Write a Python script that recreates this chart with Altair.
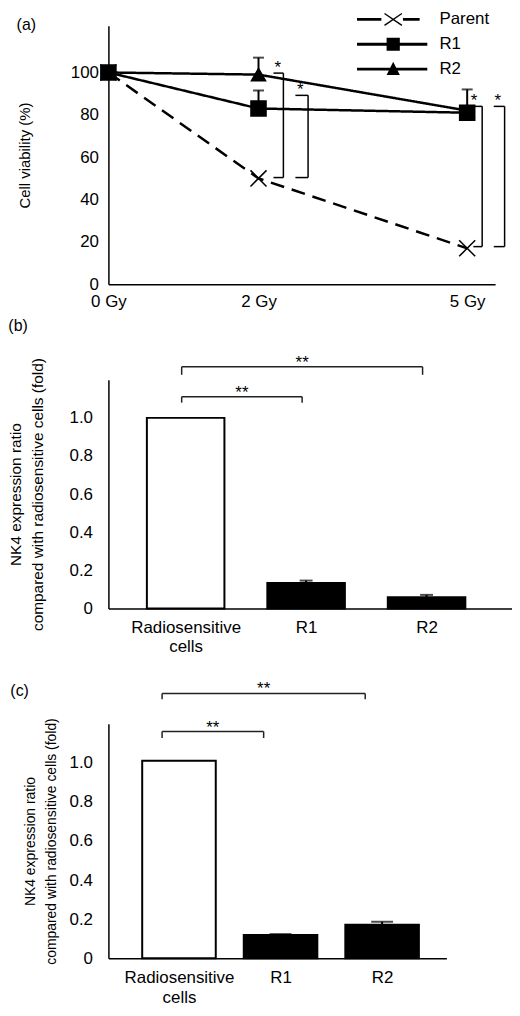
import altair as alt
import pandas as pd

FONT = "Liberation Sans"

# ---------------- Panel (a): cell viability after irradiation ----------------
doses = [0, 2, 5]
series_names = ["Parent", "R1", "R2"]
parent_viability = [100, 50, 17]
r1_viability = [100, 83, 81]
r2_viability = [100, 99, 82]
parent_err = [0, 0, 0]
r1_err = [0, 8.5, 0]
r2_err = [0, 8, 10]

# significance brackets in panel (a) (dose units / viability units)
sig_arm = [2.21, 2.52, 5.09, 5.39]
sig_bar = [2.35, 2.70, 5.22, 5.55]
sig_top = [99.7, 89.2, 84, 84]
sig_bottom = [50.4, 50.4, 17.8, 17.8]
sig_star = [2.27, 2.59, 5.10, 5.45]
sig_label = ["*", "*", "*", "*"]

# ---------------- Panels (b) and (c): NK4 expression ----------------
groups = ["Radiosensitive cells", "R1", "R2"]
b_values = [1.0, 0.134, 0.059]
b_err = [0, 0.012, 0.012]
c_values = [1.01, 0.119, 0.172]
c_err = [0, 0.005, 0.015]

b_br_start = [0, 0]
b_br_end = [1, 2]
b_br_y = [1.111, 1.268]
b_br_leg = [1.08, 1.226]
c_br_start = [0, 0]
c_br_end = [1, 2]
c_br_y = [1.16, 1.355]
c_br_leg = [1.127, 1.325]
br_label = ["**", "**"]

# ---------------- helpers ----------------
X_PATH = "M-1,-1L1,1M-1,1L1,-1"
X_FILLED = ("M-1.306,-0.767L1.194,0.933L1.306,0.767L-1.194,-0.933Z "
            "M-1.194,0.933L1.306,-0.767L1.194,-0.933L-1.306,0.767Z")
LEGEND_PATHS = [
    # dashed line + cross
    "M-5.2,-0.21H-1.7V0.21H-5.2Z M1.4,-0.21H3.8V0.21H1.4Z " + X_FILLED,
    # solid line + square
    "M-5.2,-0.21H4.9V0.21H-5.2Z M-0.95,-0.95H0.95V0.95H-0.95Z",
    # solid line + triangle
    "M-5.2,-0.21H4.9V0.21H-5.2Z M0,-1.05L0.95,0.85H-0.95Z",
]

rows = []
for name, vals, errs in [("Parent", parent_viability, parent_err),
                         ("R2", r2_viability, r2_err),
                         ("R1", r1_viability, r1_err)]:
    for d, v, e in zip(doses, vals, errs):
        rows.append({"dose": d, "value": v, "err": e, "upper": v + e, "series": name})
df_a = pd.DataFrame(rows)
df_sig = pd.DataFrame({"arm": sig_arm, "bar": sig_bar, "top": sig_top,
                       "bottom": sig_bottom, "star": sig_star, "label": sig_label})

xs_a = alt.Scale(type="pow", exponent=0.951, domain=[0, 5.41], nice=False, zero=True)
ys_a = alt.Scale(domain=[0, 122], nice=False)
ax_xa = alt.Axis(values=doses, labelExpr="datum.value + ' Gy'", title=None, grid=False,
                 ticks=False, labelFontSize=17, labelPadding=9, labelFlush=False,
                 labelOverlap=False, domainWidth=1.5)
ax_ya = alt.Axis(values=[0, 20, 40, 60, 80, 100], title="Cell viability (%)", grid=False,
                 ticks=False, labelFontSize=17, labelPadding=10, labelFlush=False,
                 labelOverlap=False, titleFontSize=15, titlePadding=38, domainWidth=1.5)


def xa(field):
    return alt.X(f"{field}:Q", scale=xs_a, axis=ax_xa)


def ya(field):
    return alt.Y(f"{field}:Q", scale=ys_a, axis=ax_ya)


base_a = alt.Chart(df_a)
lines_a = base_a.mark_line(color="black", strokeWidth=2.5).encode(
    x=xa("dose"), y=ya("value"),
    strokeDash=alt.StrokeDash("series:N", scale=alt.Scale(domain=series_names,
                              range=[[14, 8], [1, 0], [1, 0]]), legend=None),
    detail="series:N",
)
points_a = base_a.mark_point(filled=True, fill="black", stroke="black", strokeWidth=1.5,
                             opacity=1).encode(
    x=xa("dose"), y=ya("value"),
    shape=alt.Shape("series:N", scale=alt.Scale(domain=series_names,
                    range=[X_PATH, "square", "triangle-up"]), legend=None),
    size=alt.Size("series:N", scale=alt.Scale(domain=series_names, range=[260, 200, 190]),
                  legend=None),
)
err_a = base_a.transform_filter("datum.err > 0")
err_rule_a = err_a.mark_rule(color="black", strokeWidth=2).encode(
    x=xa("dose"), y=ya("value"), y2="upper:Q")
err_cap_a = err_a.mark_tick(color="black", orient="horizontal", size=11, thickness=2).encode(
    x=xa("dose"), y=ya("upper"))

base_sig = alt.Chart(df_sig)
sig_v = base_sig.mark_rule(color="black", strokeWidth=1.5).encode(
    x=xa("bar"), y=ya("top"), y2="bottom:Q")
sig_t = base_sig.mark_rule(color="black", strokeWidth=1.5).encode(
    x=xa("arm"), x2="bar:Q", y=ya("top"))
sig_b = base_sig.mark_rule(color="black", strokeWidth=1.5).encode(
    x=xa("arm"), x2="bar:Q", y=ya("bottom"))
sig_s = base_sig.mark_text(font=FONT, fontSize=17, baseline="alphabetic", align="center",
                           color="black").encode(x=xa("star"), y=ya("top"), text="label:N")

legend_a = base_a.transform_filter("false").mark_point(
    filled=True, fill="black", stroke="black", strokeWidth=1.5, opacity=1).encode(
    x=xa("dose"), y=ya("value"),
    shape=alt.Shape("series:N", scale=alt.Scale(domain=series_names, range=LEGEND_PATHS),
                    legend=alt.Legend(title=None, orient="none", legendX=278, legendY=-15,
                                      padding=0, symbolSize=196, symbolFillColor="black",
                                      symbolStrokeColor="black", symbolStrokeWidth=1.5,
                                      symbolOpacity=1, labelFont=FONT, labelFontSize=17,
                                      labelColor="black", labelOffset=38, rowPadding=4)),
)

chart_a = alt.layer(lines_a, points_a, err_rule_a, err_cap_a, sig_v, sig_t, sig_b, sig_s,
                    legend_a).resolve_scale(shape="independent", size="independent").properties(
    width=389, height=260,
    title=alt.TitleParams("(a)", anchor="start", frame="bounds", fontSize=16,
                          fontWeight="normal", font=FONT, offset=0, dy=22, dx=-1),
)


# ---------------- bar panels ----------------
def label_expr(names):
    parts = []
    for i, n in enumerate(names):
        words = n.split(" ")
        if len(words) > 1:
            parts.append("[" + ", ".join(f"'{w}'" for w in words) + "]")
        else:
            parts.append(f"'{n}'")
    expr = ""
    for i, lab in enumerate(parts[:-1]):
        expr += f"datum.value == {i} ? {lab} : "
    return expr + parts[-1]


def bar_panel(values, errs, br_start, br_end, br_y, br_leg, letter, x_domain, width, height,
              bar_size, cap_size, title_pad, title_size, title_lh, br_shift, letter_offset,
              letter_dy, letter_dx, lab_lh):
    df = pd.DataFrame({"idx": list(range(len(groups))), "group": groups,
                       "value": values, "err": errs})
    df["upper"] = df["value"] + df["err"]
    dfb = pd.DataFrame({"start": br_start, "end": br_end, "y": br_y, "leg": br_leg,
                        "label": br_label})
    xs = alt.Scale(domain=x_domain, nice=False, zero=False)
    ys = alt.Scale(domain=[0, 1.2], nice=False)
    ax_x = alt.Axis(values=list(range(len(groups))), labelExpr=label_expr(groups), title=None,
                    grid=False, ticks=False, labelFontSize=17, labelPadding=11,
                    labelLineHeight=lab_lh, labelFlush=False, labelOverlap=False,
                    labelBaseline="top", domainWidth=1.5)
    ax_y = alt.Axis(values=[0, 0.2, 0.4, 0.6, 0.8, 1.0],
                    labelExpr="datum.value == 0 ? '0' : format(datum.value, '.1f')",
                    title=["NK4 expression ratio", "compared with radiosensitive cells (fold)"],
                    grid=False, ticks=False, labelFontSize=17, labelPadding=16,
                    labelFlush=False, labelOverlap=False, titleFontSize=title_size,
                    titleLineHeight=title_lh, titlePadding=title_pad, domainWidth=1.5)

    def X(f):
        return alt.X(f"{f}:Q", scale=xs, axis=ax_x)

    def Y(f):
        return alt.Y(f"{f}:Q", scale=ys, axis=ax_y)

    base = alt.Chart(df)
    bars = base.mark_bar(size=bar_size, stroke="black", strokeWidth=2).encode(
        x=X("idx"), y=Y("value"), y2=alt.datum(0),
        fill=alt.Fill("group:N", scale=alt.Scale(domain=groups,
                      range=["white", "black", "black"]), legend=None),
    )
    eb = base.transform_filter("datum.err > 0")
    e_rule = eb.mark_rule(color="black", strokeWidth=2).encode(
        x=X("idx"), y=Y("value"), y2="upper:Q")
    e_cap = eb.mark_tick(color="black", orient="horizontal", size=cap_size, thickness=2).encode(
        x=X("idx"), y=Y("upper"))
    bb = alt.Chart(dfb)
    h = bb.mark_rule(color="#222", strokeWidth=1.5, xOffset=br_shift, x2Offset=br_shift).encode(
        x=X("start"), x2="end:Q", y=Y("y"))
    l1 = bb.mark_rule(color="#222", strokeWidth=1.5, xOffset=br_shift).encode(
        x=X("start"), y=Y("y"), y2="leg:Q")
    l2 = bb.mark_rule(color="#222", strokeWidth=1.5, xOffset=br_shift).encode(
        x=X("end"), y=Y("y"), y2="leg:Q")
    st = bb.transform_calculate(mid="(datum.start + datum.end) / 2").mark_text(
        font=FONT, fontSize=17, baseline="alphabetic", align="center", color="black",
        dx=br_shift, dy=1).encode(x=X("mid"), y=Y("y"), text="label:N")
    return alt.layer(bars, e_rule, e_cap, h, l1, l2, st).properties(
        width=width, height=height,
        title=alt.TitleParams(letter, anchor="start", frame="bounds", fontSize=16,
                              fontWeight="normal", font=FONT, offset=letter_offset,
                              dy=letter_dy, dx=letter_dx),
    )


chart_b = bar_panel(b_values, b_err, b_br_start, b_br_end, b_br_y, b_br_leg, "(b)",
                    [-0.6, 2.668], 406, 230, 78, 13, 24, 15.5, 22, -4, 20, 0, 0, 19)
chart_c = bar_panel(c_values, c_err, c_br_start, c_br_end, c_br_y, c_br_leg, "(c)",
                    [-0.646, 2.584], 340, 236, 74, 22, 11, 14, 21, -17, 0, 19, -13, 20)

chart = alt.vconcat(
    chart_a,
    alt.vconcat(chart_b, chart_c, spacing=26),
    spacing=8,
).properties(padding=0, background="white").configure_view(stroke=None).configure_axis(
    labelFont=FONT, titleFont=FONT, labelColor="black", titleColor="black",
    domainColor="black", titleFontWeight="normal",
)

chart.save("out.html", embed_options={"renderer": "svg", "actions": False})
